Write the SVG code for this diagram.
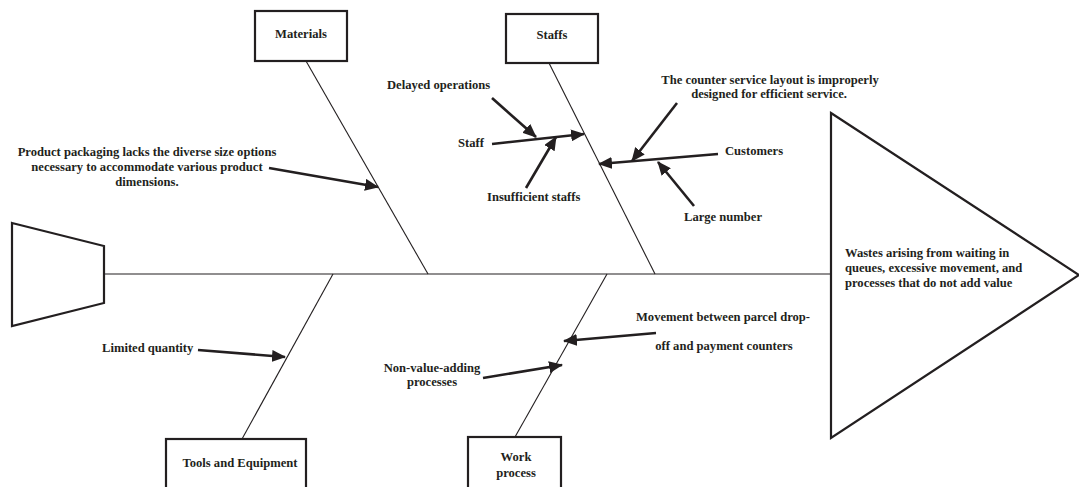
<svg xmlns="http://www.w3.org/2000/svg" width="1079" height="487" viewBox="0 0 1079 487">
<style>
text{font-family:"Liberation Serif","Times New Roman",serif;font-weight:bold;font-size:12.6px;fill:#231f20}
.box{fill:#fff;stroke:#231f20;stroke-width:2.2}
.bone{stroke:#231f20;stroke-width:1.1;fill:none}
.arr{stroke:#231f20;stroke-width:2.6;fill:none;marker-end:url(#ah)}
.c{text-anchor:middle}
</style>
<defs>
<marker id="ah" markerUnits="userSpaceOnUse" viewBox="0 0 14 12" refX="13" refY="6" markerWidth="14" markerHeight="12" orient="auto">
<path d="M0,0 L14,6 L0,12 Z" fill="#231f20"/>
</marker>
</defs>
<g id="tail"><polygon class="box" points="12,223 104,246 104,303 12,326"/></g>
<g id="head">
<polygon class="box" points="831,113 1079,275 831,438"/>
<text x="845" y="257">Wastes arising from waiting in</text>
<text x="845" y="272">queues, excessive movement, and</text>
<text x="845" y="287">processes that do not add value</text>
</g>
<g id="connectors">
<line class="bone" x1="104" y1="274" x2="831" y2="274"/>
<line class="bone" x1="306" y1="61" x2="428" y2="274"/>
<line class="bone" x1="549" y1="63" x2="655" y2="274"/>
<line class="bone" x1="333" y1="274" x2="242" y2="439"/>
<line class="bone" x1="607" y1="274" x2="515" y2="437"/>
<line class="arr" x1="269" y1="168" x2="378" y2="187"/>
<line class="arr" x1="492" y1="98" x2="536" y2="137"/>
<line class="arr" x1="492" y1="144" x2="584" y2="134"/>
<line class="arr" x1="526" y1="188" x2="556" y2="137"/>
<line class="arr" x1="718" y1="154" x2="599" y2="164"/>
<line class="arr" x1="677" y1="103" x2="632" y2="161"/>
<line class="arr" x1="694" y1="206" x2="658" y2="162"/>
<line class="arr" x1="198" y1="350" x2="285" y2="357"/>
<line class="arr" x1="656" y1="333" x2="564" y2="341"/>
<line class="arr" x1="483" y1="378" x2="562" y2="365"/>
</g>
<g id="materials">
<rect class="box" x="255" y="11" width="92" height="50"/>
<text class="c" x="301" y="38">Materials</text>
</g>
<g id="staffs">
<rect class="box" x="506" y="14" width="92" height="49"/>
<text class="c" x="552" y="39">Staffs</text>
</g>
<g id="tools">
<rect class="box" x="166" y="439" width="140" height="60"/>
<text class="c" x="240" y="467">Tools and Equipment</text>
</g>
<g id="work">
<rect class="box" x="468" y="437" width="93" height="60"/>
<text class="c" x="516" y="461">Work</text>
<text class="c" x="516" y="477">process</text>
</g>
<g id="labels">
<text class="c" x="147" y="156">Product packaging lacks the diverse size options</text>
<text class="c" x="147" y="171">necessary to accommodate various product</text>
<text class="c" x="147" y="186">dimensions.</text>
<text x="387" y="89">Delayed operations</text>
<text x="458" y="147">Staff</text>
<text x="487" y="201">Insufficient staffs</text>
<text class="c" x="770" y="84">The counter service layout is improperly</text>
<text class="c" x="769" y="98">designed for efficient service.</text>
<text x="725" y="155">Customers</text>
<text x="684" y="221">Large number</text>
<text x="102" y="352">Limited quantity</text>
<text class="c" x="723" y="321">Movement between parcel drop-</text>
<text class="c" x="724" y="350">off and payment counters</text>
<text class="c" x="432" y="372">Non-value-adding</text>
<text class="c" x="432" y="386">processes</text>
</g>
</svg>
